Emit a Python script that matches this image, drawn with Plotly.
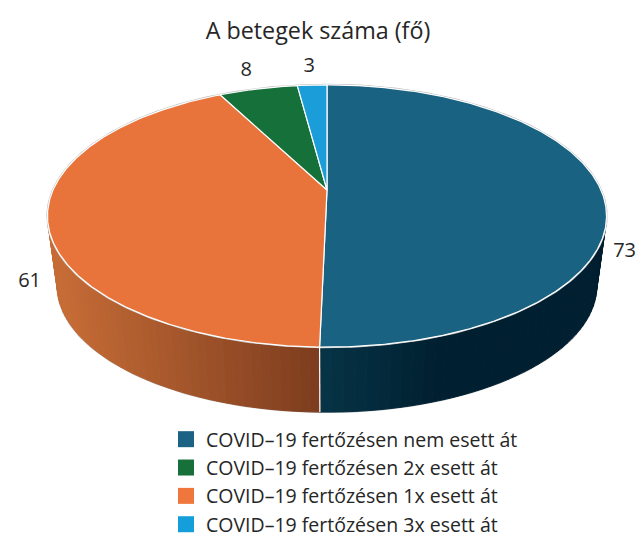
import numpy as np
import plotly.graph_objects as go

title = "A betegek száma (fő)"
categories = ["COVID–19 fertőzésen nem esett át", "COVID–19 fertőzésen 1x esett át",
              "COVID–19 fertőzésen 2x esett át", "COVID–19 fertőzésen 3x esett át"]
values = [73, 61, 8, 3]
colors = ["#1A6282", "#E9743B", "#16703A", "#1B9DD9"]
legend_colors = ["#1C6285", "#F0773C", "#176F3A", "#159FDA"]
legend_order = [0, 2, 1, 3]
label_offsets = [(23, 61), (-18, 62), (-12, -18), (-3, -18)]

# perspective view of the disc
CX, CY, R, B, K = 327.0, 190.0, 274.0, 126.0, 0.198
SCALE, DROP = 0.965, 70.5
FONT = "Open Sans, sans-serif"
TEXT = "#262626"


def top(theta):
    sx, fy = np.sin(theta), -np.cos(theta)
    d = 1 - K * fy
    return CX + R * sx / d, CY + B * fy / d


def bottom(theta):
    x, y = top(theta)
    return CX + SCALE * (x - CX), CY + SCALE * (y - CY) + DROP


def mix(a, b, t):
    t = float(np.clip(t, 0, 1))
    return "rgb(%d,%d,%d)" % tuple(round(p + (q - p) * t) for p, q in zip(a, b))


def wall_color(i, x):
    if i == 0:
        return mix((6, 52, 70), (0, 31, 48), (x - 320) / 125)
    return mix((198, 108, 54), (124, 60, 30), (x - 57) / 263)


fractions = np.cumsum([0] + values) / sum(values)
angles = fractions * 2 * np.pi

fig = go.Figure()
skip = dict(hoverinfo="skip", showlegend=False)

# silhouette, drawn first so that the walls cover its inner half
rim = np.linspace(0, 2 * np.pi, 361)
bx, by = bottom(rim)
fig.add_trace(go.Scatter(x=bx, y=by, mode="lines", line=dict(color="#C4C4C4", width=2), **skip))
for side in (0.5 * np.pi, 1.5 * np.pi):
    sx0, sy0 = top(side)
    sx1, sy1 = bottom(side)
    fig.add_trace(go.Scatter(x=[sx0, sx1], y=[sy0, sy1], mode="lines", line=dict(color="#C4C4C4", width=2), **skip))

# side walls
for i in (0, 1):
    edges = np.linspace(angles[i], angles[i + 1], 91)
    for a0, a1 in zip(edges[:-1], edges[1:]):
        x0, y0 = top(a0)
        x1, y1 = top(a1)
        x2, y2 = bottom(a1)
        x3, y3 = bottom(a0)
        col = wall_color(i, (x0 + x1) / 2)
        fig.add_trace(go.Scatter(x=[x0, x1, x2, x3, x0], y=[y0, y1, y2, y3, y0], mode="lines",
                                 fill="toself", fillcolor=col, line=dict(color=col, width=1), **skip))

# top rim and seam
tx, ty = top(rim)
fig.add_trace(go.Scatter(x=tx, y=ty, mode="lines", line=dict(color="#C4C4C4", width=2.2), **skip))
sx0, sy0 = top(angles[1])
sx1, sy1 = bottom(angles[1])
fig.add_trace(go.Scatter(x=[sx0, sx1], y=[sy0, sy1], mode="lines", line=dict(color="white", width=1.2), **skip))

# top faces
for i, v in enumerate(values):
    th = np.linspace(angles[i], angles[i + 1], max(int(v * 6), 12))
    x, y = top(th)
    fig.add_trace(go.Scatter(x=np.r_[CX, x, CX], y=np.r_[CY, y, CY], mode="lines", fill="toself",
                             fillcolor=colors[i], line=dict(color="white", width=1.2), **skip))

# data labels
mid = (angles[:-1] + angles[1:]) / 2
lx, ly = top(mid)
fig.add_trace(go.Scatter(x=lx + np.array([o[0] for o in label_offsets]),
                         y=ly + np.array([o[1] for o in label_offsets]),
                         mode="text", text=[str(v) for v in values],
                         textfont=dict(family=FONT, size=20, color=TEXT), **skip))

# legend entries
for i in legend_order:
    fig.add_trace(go.Scatter(x=[None], y=[None], mode="markers", name=categories[i],
                             marker=dict(symbol="square", size=16, color=legend_colors[i])))

fig.update_layout(
    width=638, height=538, autosize=False, margin=dict(l=0, r=0, t=0, b=0, autoexpand=False),
    paper_bgcolor="white", plot_bgcolor="white",
    title=dict(text=title, x=318 / 638, xanchor="center", y=1 - 31 / 538, yanchor="middle",
               font=dict(family=FONT, size=23.3, color=TEXT)),
    xaxis=dict(range=[0, 638], visible=False, fixedrange=True),
    yaxis=dict(range=[538, 0], visible=False, fixedrange=True),
    legend=dict(x=166 / 638, y=1 - 420 / 538, xanchor="left", yanchor="top", traceorder="normal",
                bgcolor="rgba(0,0,0,0)", itemwidth=30, font=dict(family=FONT, size=19.5, color=TEXT)),
)
fig.write_html("out.html", config={"displayModeBar": False},
               post_script="document.body.style.margin='0';document.documentElement.style.overflow='hidden';")
